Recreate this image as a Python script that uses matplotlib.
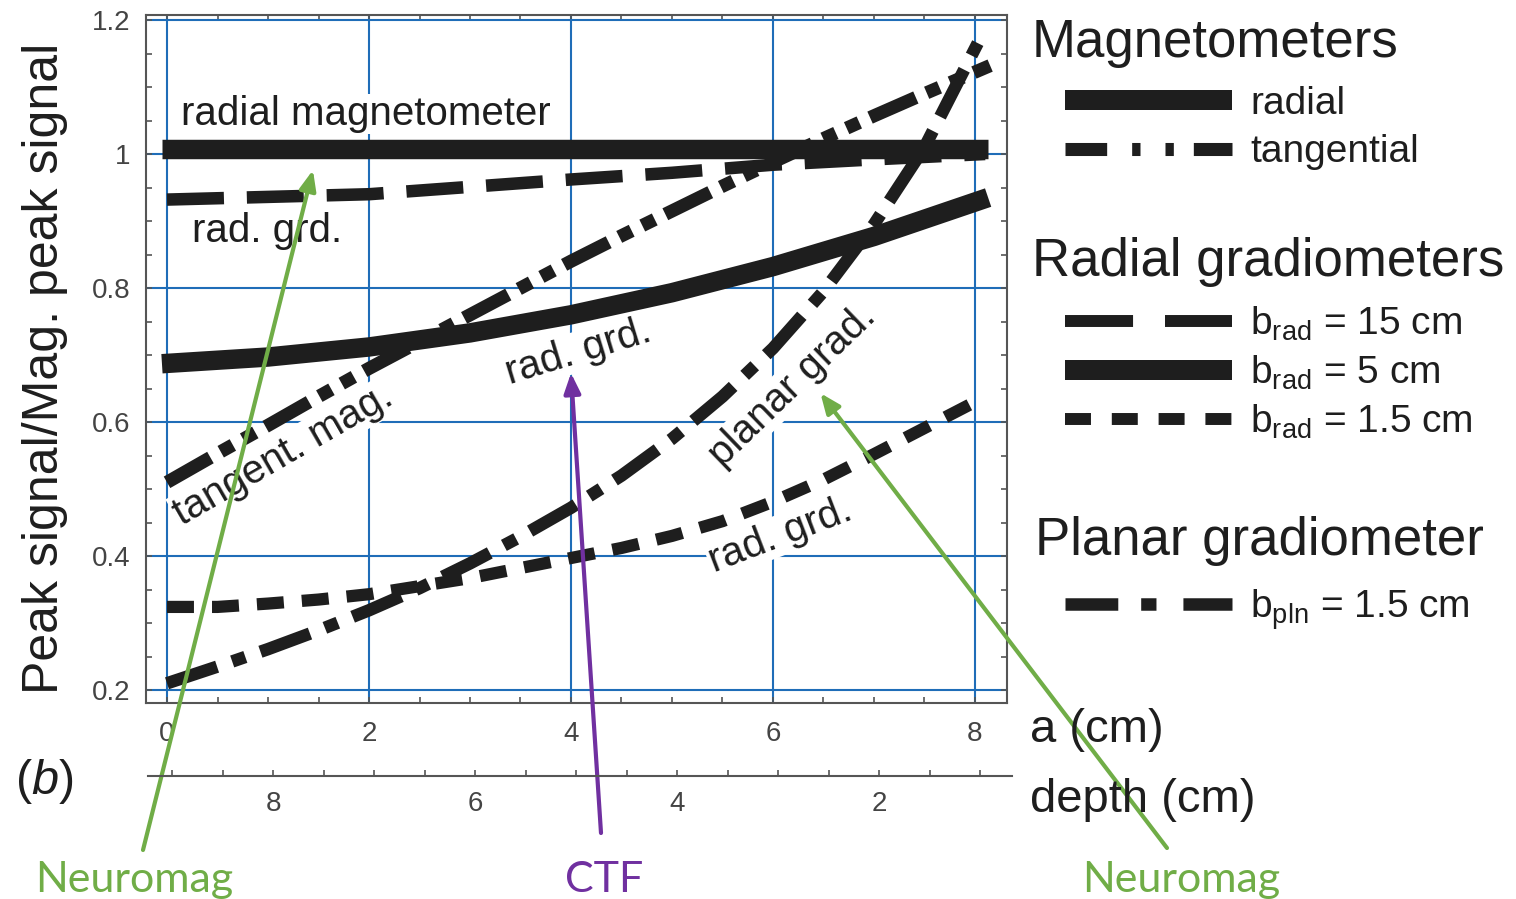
import matplotlib
matplotlib.use('Agg')
import matplotlib.pyplot as plt
from matplotlib.lines import Line2D
from matplotlib.ticker import MultipleLocator
from matplotlib import font_manager

W, H = 1516, 899

# a (cm) vs peak signal / magnetometer peak signal
a_rad_mag = [-0.05, 8.13]
rad_mag = [1.008, 1.008]

a_tan_mag = [0, 0.5, 1, 1.5, 2, 2.5, 3, 3.5, 4, 4.5, 5, 5.5, 6, 6.5, 7, 7.5, 8.15]
tan_mag = [0.51, 0.553, 0.595, 0.638, 0.68, 0.72, 0.76, 0.80, 0.84, 0.878,
           0.915, 0.952, 0.988, 1.023, 1.057, 1.09, 1.132]

a_rad15 = [0, 1, 2, 3, 4, 5, 6, 7, 8.1]
rad15 = [0.932, 0.936, 0.940, 0.951, 0.962, 0.972, 0.984, 0.992, 1.0]

a_rad5 = [-0.05, 1, 2, 3, 4, 5, 6, 7, 8.13]
rad5 = [0.687, 0.697, 0.712, 0.733, 0.760, 0.793, 0.832, 0.877, 0.935]

a_rad1_5 = [0, 0.5, 1, 1.5, 2, 2.5, 3, 3.5, 4, 4.5, 5, 5.5, 6, 6.5, 7, 7.5, 8]
rad1_5 = [0.324, 0.324, 0.329, 0.335, 0.343, 0.355, 0.367, 0.382, 0.397, 0.412,
          0.43, 0.452, 0.481, 0.514, 0.552, 0.591, 0.63]

a_pln = [0, 0.5, 1, 1.5, 2, 2.5, 3, 3.5, 4, 4.5, 5, 5.5, 6, 6.5, 7, 7.5, 8.07]
pln1_5 = [0.21, 0.235, 0.261, 0.289, 0.319, 0.352, 0.389, 0.429, 0.472, 0.52,
          0.575, 0.638, 0.71, 0.795, 0.895, 1.01, 1.178]

x_ticks = [0, 2, 4, 6, 8]
y_ticks = [0.2, 0.4, 0.6, 0.8, 1.0, 1.2]
y_labels = ['0.2', '0.4', '0.6', '0.8', '1', '1.2']
depth_ticks = [8, 6, 4, 2]

ink = '#1e1e1e'
grid_blue = '#1f6db8'
green = '#70ad47'
purple = '#7030a0'

plt.rcParams['font.family'] = ['Liberation Sans', 'DejaVu Sans']
plt.rcParams['mathtext.fontset'] = 'custom'
plt.rcParams['mathtext.rm'] = 'Liberation Sans'
plt.rcParams['mathtext.it'] = 'Liberation Sans:italic'
plt.rcParams['lines.scale_dashes'] = False

names = {f.name for f in font_manager.fontManager.ttflist}
tick_font = 'Liberation Sans Narrow' if 'Liberation Sans Narrow' in names else 'Liberation Sans'

fig = plt.figure(figsize=(W / 100, H / 100), dpi=100)
ax = fig.add_axes([146 / W, 1 - 703 / H, (1007 - 146) / W, (703 - 15) / H])
ax.set_xlim(-0.208, 8.317)
ax.set_ylim(0.1806, 1.2075)

# line styles (points)
ls_tan = (0, (36, 8.5, 10, 8.5, 10, 8.5))
ls_15 = (0, (41, 16.5))
ls_1_5 = (0, (19.4, 13))
ls_pln = (0, (38, 11.5, 10, 11.5))

ax.plot(a_rad_mag, rad_mag, color=ink, lw=14, solid_capstyle='butt', zorder=4)
ax.plot(a_tan_mag, tan_mag, color=ink, lw=9.5, ls=ls_tan, dash_capstyle='butt', zorder=4)
ax.plot(a_rad15, rad15, color=ink, lw=9, ls=ls_15, dash_capstyle='butt', zorder=4)
ax.plot(a_rad5, rad5, color=ink, lw=14, solid_capstyle='butt', solid_joinstyle='round', zorder=4)
ax.plot(a_rad1_5, rad1_5, color=ink, lw=8.8, ls=ls_1_5, dash_capstyle='butt', zorder=4)
ax.plot(a_pln, pln1_5, color=ink, lw=9, ls=ls_pln, dash_capstyle='butt', zorder=4)

ax.set_xticks(x_ticks)
ax.set_xticklabels([str(v) for v in x_ticks])
ax.set_yticks(y_ticks)
ax.set_yticklabels(y_labels)
ax.xaxis.set_minor_locator(MultipleLocator(0.5))
ax.yaxis.set_minor_locator(MultipleLocator(0.05))
ax.tick_params(which='both', direction='in', top=True, right=True,
               color='#555555', width=1.2, length=4.3)
ax.tick_params(axis='x', labelsize=20, labelcolor='#444444', pad=13)
ax.tick_params(axis='y', labelsize=20, labelcolor='#444444', pad=11)
for lab in ax.get_xticklabels() + ax.get_yticklabels():
    lab.set_fontfamily(tick_font)
ax.grid(True, which='major', color=grid_blue, lw=1.5)
ax.set_axisbelow(True)
for s in ax.spines.values():
    s.set_color('#555555')
    s.set_linewidth(1.5)

box = dict(facecolor='white', edgecolor='none', pad=1)
ax.text(0.14, 1.043, 'radial magnetometer', fontsize=29, color=ink, va='baseline', zorder=3, bbox=box)
ax.text(0.25, 0.869, 'rad. grd.', fontsize=29, color=ink, va='baseline', zorder=3, bbox=box)
ax.text(4.07, 0.705, 'rad. grd.', fontsize=29, color=ink, rotation=17, ha='center', va='center',
        rotation_mode='anchor', zorder=3, bbox=box)
ax.text(1.15, 0.551, 'tangent. mag.', fontsize=29, color=ink, rotation=30, ha='center', va='center',
        rotation_mode='anchor', zorder=3, bbox=box)
ax.text(6.19, 0.655, 'planar grad.', fontsize=29, color=ink, rotation=44, ha='center', va='center',
        rotation_mode='anchor', zorder=3, bbox=box)
ax.text(6.07, 0.431, 'rad. grd.', fontsize=29, color=ink, rotation=21, ha='center', va='center',
        rotation_mode='anchor', zorder=3, bbox=box)

# depth axis
ax2 = fig.add_axes([148 / W, 1 - 776 / H, 864 / W, 1e-4])
ax2.patch.set_visible(False)
for s in ['top', 'left', 'right']:
    ax2.spines[s].set_visible(False)
ax2.spines['bottom'].set_color('#555555')
ax2.spines['bottom'].set_linewidth(1.5)
ax2.set_yticks([])
ax2.set_xlim(9.238, 0.684)
ax2.set_xticks(depth_ticks)
ax2.set_xticklabels([str(v) for v in depth_ticks])
ax2.xaxis.set_minor_locator(MultipleLocator(0.5))
ax2.tick_params(which='both', direction='in', color='#555555', width=1.2, length=4.3)
ax2.tick_params(axis='x', labelsize=20, labelcolor='#444444', pad=11)
for lab in ax2.get_xticklabels():
    lab.set_fontfamily(tick_font)

fig.text(45 / W, 1 - 368 / H, 'Peak signal/Mag. peak signal', rotation=90, ha='center', va='center',
         fontsize=36, color=ink)
fig.text(1030 / W, 1 - 730 / H, 'a (cm)', fontsize=34, va='center', color=ink)
fig.text(1030 / W, 1 - 800 / H, 'depth (cm)', fontsize=34, va='center', color=ink)
fig.text(15 / W, 1 - 782 / H, '($b$)', fontsize=35, va='center', color=ink)

# legend
fig.text(1032 / W, 1 - 57 / H, 'Magnetometers', fontsize=38, va='baseline', color=ink)
fig.text(1032 / W, 1 - 276 / H, 'Radial gradiometers', fontsize=38, va='baseline', color=ink)
fig.text(1035 / W, 1 - 555 / H, 'Planar gradiometer', fontsize=38, va='baseline', color=ink)

fs_leg = 28
hl = 167 / (fs_leg * 100 / 72)
htp = 18 / (fs_leg * 100 / 72)
h_rad = Line2D([], [], color=ink, lw=14.4, solid_capstyle='butt')
h_tan = Line2D([], [], color=ink, lw=9.4, ls=(0, (30, 18, 6, 18, 6, 14.4)), dash_capstyle='butt')
h_15 = Line2D([], [], color=ink, lw=8.6, ls=(0, (49, 23)), dash_capstyle='butt')
h_5 = Line2D([], [], color=ink, lw=14.4, solid_capstyle='butt')
h_1_5 = Line2D([], [], color=ink, lw=8.6, ls=(0, (18.7, 15)), dash_capstyle='butt')
h_pln = Line2D([], [], color=ink, lw=9, ls=(0, (38, 16.5, 11, 19.4)), dash_capstyle='butt')

leg_kw = dict(frameon=False, fontsize=fs_leg, handlelength=hl, handletextpad=htp,
              borderpad=0, borderaxespad=0, loc='center left', labelcolor=ink)
fig.legend(handles=[h_rad, h_tan], labels=['radial', 'tangential'],
           bbox_to_anchor=(1065 / W, 1 - 128 / H), labelspacing=0.32, **leg_kw)
fig.legend(handles=[h_15, h_5, h_1_5],
           labels=[r'b$_{\mathrm{rad}}$ = 15 cm', r'b$_{\mathrm{rad}}$ = 5 cm', r'b$_{\mathrm{rad}}$ = 1.5 cm'],
           bbox_to_anchor=(1065 / W, 1 - 373 / H), labelspacing=0.28, **leg_kw)
fig.legend(handles=[h_pln], labels=[r'b$_{\mathrm{pln}}$ = 1.5 cm'],
           bbox_to_anchor=(1065 / W, 1 - 610 / H), **leg_kw)

# arrows pointing at the sensor types
arrows = [((1.445, 0.976), (143, H - 850), green),
          ((4.0, 0.673), (601, H - 833), purple),
          ((6.47, 0.643), (1167, H - 848), green)]
for head, tail, col in arrows:
    ann = ax.annotate('', xy=head, xycoords='data', xytext=tail, textcoords='figure pixels',
                      arrowprops=dict(arrowstyle='-|>,head_length=0.6,head_width=0.25', color=col,
                                      lw=3, shrinkA=0, shrinkB=0, mutation_scale=20),
                      annotation_clip=False, zorder=6)
    ann.arrow_patch.set_clip_on(False)

fig.text(35 / W, 7 / H, 'Neuromag', fontsize=31, family='Lato', color=green, va='baseline')
fig.text(565 / W, 7 / H, 'CTF', fontsize=31, family='Lato', color=purple, va='baseline')
fig.text(1082 / W, 7 / H, 'Neuromag', fontsize=31, family='Lato', color=green, va='baseline')

fig.savefig('out.png', dpi=100)
